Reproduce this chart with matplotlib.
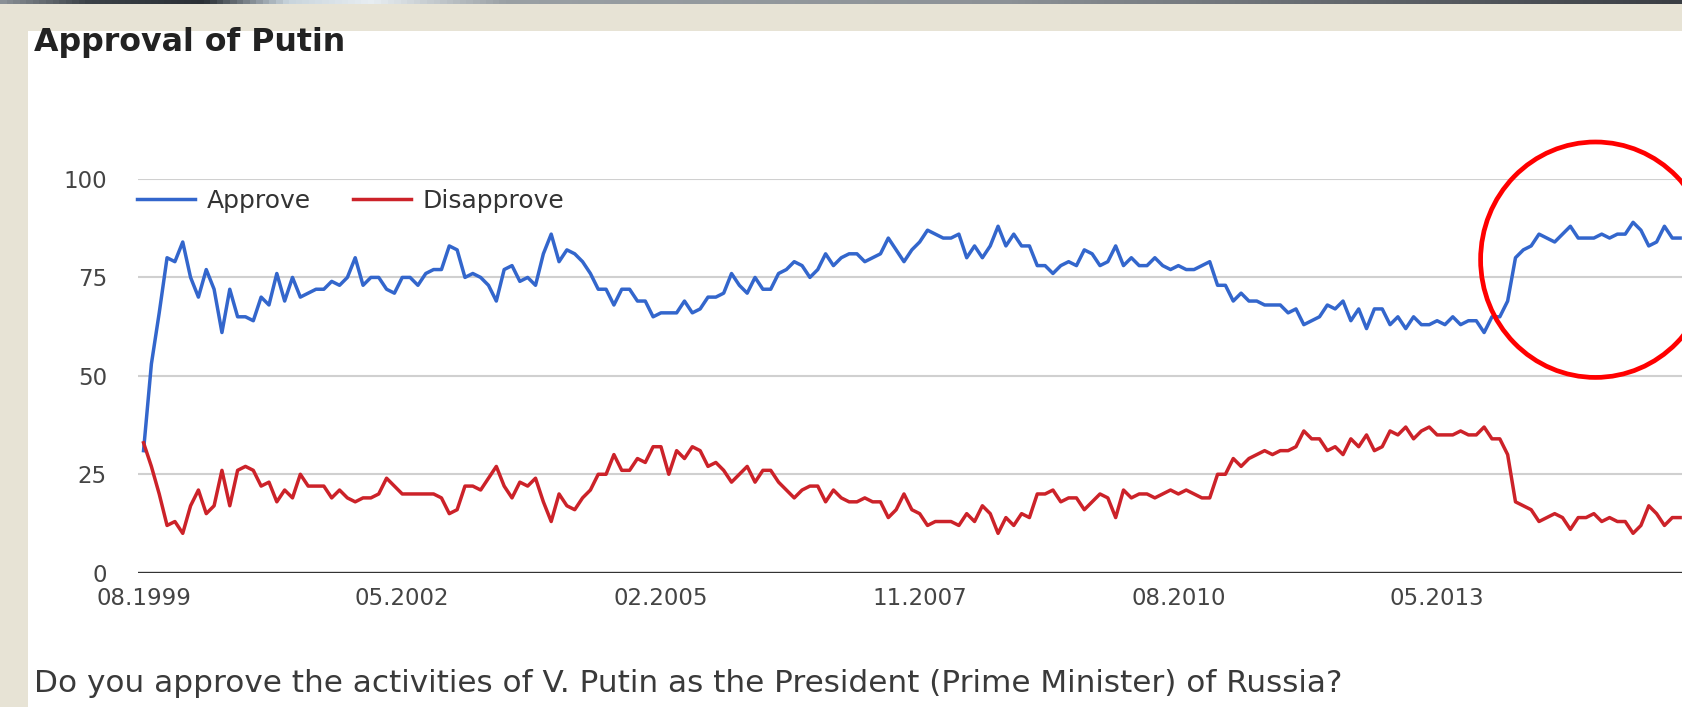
import numpy as np
import matplotlib.pyplot as plt
from matplotlib.patches import Rectangle, Ellipse
from matplotlib.colors import LinearSegmentedColormap

# Monthly survey values, 08.1999 onwards
approve = [
    31, 53, 66, 80, 79, 84, 75, 70, 77, 72,
    61, 72, 65, 65, 64, 70, 68, 76, 69, 75,
    70, 71, 72, 72, 74, 73, 75, 80, 73, 75,
    75, 72, 71, 75, 75, 73, 76, 77, 77, 83,
    82, 75, 76, 75, 73, 69, 77, 78, 74, 75,
    73, 81, 86, 79, 82, 81, 79, 76, 72, 72,
    68, 72, 72, 69, 69, 65, 66, 66, 66, 69,
    66, 67, 70, 70, 71, 76, 73, 71, 75, 72,
    72, 76, 77, 79, 78, 75, 77, 81, 78, 80,
    81, 81, 79, 80, 81, 85, 82, 79, 82, 84,
    87, 86, 85, 85, 86, 80, 83, 80, 83, 88,
    83, 86, 83, 83, 78, 78, 76, 78, 79, 78,
    82, 81, 78, 79, 83, 78, 80, 78, 78, 80,
    78, 77, 78, 77, 77, 78, 79, 73, 73, 69,
    71, 69, 69, 68, 68, 68, 66, 67, 63, 64,
    65, 68, 67, 69, 64, 67, 62, 67, 67, 63,
    65, 62, 65, 63, 63, 64, 63, 65, 63, 64,
    64, 61, 65, 65, 69, 80, 82, 83, 86, 85,
    84, 86, 88, 85, 85, 85, 86, 85, 86, 86,
    89, 87, 83, 84, 88, 85, 85,
]
disapprove = [
    33, 27, 20, 12, 13, 10, 17, 21, 15, 17,
    26, 17, 26, 27, 26, 22, 23, 18, 21, 19,
    25, 22, 22, 22, 19, 21, 19, 18, 19, 19,
    20, 24, 22, 20, 20, 20, 20, 20, 19, 15,
    16, 22, 22, 21, 24, 27, 22, 19, 23, 22,
    24, 18, 13, 20, 17, 16, 19, 21, 25, 25,
    30, 26, 26, 29, 28, 32, 32, 25, 31, 29,
    32, 31, 27, 28, 26, 23, 25, 27, 23, 26,
    26, 23, 21, 19, 21, 22, 22, 18, 21, 19,
    18, 18, 19, 18, 18, 14, 16, 20, 16, 15,
    12, 13, 13, 13, 12, 15, 13, 17, 15, 10,
    14, 12, 15, 14, 20, 20, 21, 18, 19, 19,
    16, 18, 20, 19, 14, 21, 19, 20, 20, 19,
    20, 21, 20, 21, 20, 19, 19, 25, 25, 29,
    27, 29, 30, 31, 30, 31, 31, 32, 36, 34,
    34, 31, 32, 30, 34, 32, 35, 31, 32, 36,
    35, 37, 34, 36, 37, 35, 35, 35, 36, 35,
    35, 37, 34, 34, 30, 18, 17, 16, 13, 14,
    15, 14, 11, 14, 14, 15, 13, 14, 13, 13,
    10, 12, 17, 15, 12, 14, 14,
]
tick_pos = [0, 33, 66, 99, 132, 165]
tick_labels = ['08.1999', '05.2002', '02.2005', '11.2007', '08.2010', '05.2013']
y_ticks = [0, 25, 50, 75, 100]

W, H = 1682, 707
fig = plt.figure(figsize=(W / 100, H / 100), dpi=100)
fig.patch.set_facecolor('#E7E3D5')

# white page panel
fig.patches.append(Rectangle((28 / W, 0), 1, (H - 31) / H, transform=fig.transFigure,
                             facecolor='white', edgecolor='none', zorder=-10))

# thin dark strip on the very top
bar = fig.add_axes([0, 1 - 4 / H, 1, 4 / H])
cmap = LinearSegmentedColormap.from_list('bar', [
    (0, '#8a9096'), (0.05, '#3c4248'), (0.12, '#2a2f35'), (0.17, '#c8d4dc'),
    (0.22, '#e8eef2'), (0.3, '#9aa0a4'), (0.6, '#8c9196'), (1, '#3a3e44')])
bar.imshow(np.linspace(0, 1, 256)[None, :], aspect='auto', cmap=cmap)
bar.axis('off')

x = np.arange(len(approve))
ax = fig.add_axes([137.5 / W, (H - 572.7) / H, (W - 137.5) / W, (572.7 - 179) / H])
ax.set_facecolor('none')
ax.set_axisbelow(True)

ax.plot(x, approve, color='#3366CC', lw=2.5, label='Approve', zorder=3)
ax.plot(x, disapprove, color='#CC2229', lw=2.5, label='Disapprove', zorder=4)

ax.set_xlim(-0.77, 196.24)
ax.set_ylim(0, 100)
ax.set_yticks(y_ticks)
ax.set_xticks(tick_pos)
ax.set_xticklabels(tick_labels)
ax.tick_params(axis='both', length=0, labelsize=16.5, labelcolor='#444444')
ax.tick_params(axis='y', pad=22)
ax.tick_params(axis='x', pad=10)
ax.grid(axis='y', color='#d0d0d0', lw=1.5)
ax.axhline(0, color='#333333', lw=2.4, zorder=2.6)
for s in ax.spines.values():
    s.set_visible(False)

ax.legend(loc='center left', bbox_to_anchor=(137 / W, 1 - 201 / H),
          bbox_transform=fig.transFigure, ncol=2, frameon=False, fontsize=18,
          handlelength=2.3, handletextpad=0.48, columnspacing=1.7,
          borderpad=0, borderaxespad=0, labelcolor='#333333')

# highlight circle
ax.add_patch(Ellipse((185.2, 79.5), 29.3, 59.8, fill=False, ec='#FF0000',
                     lw=3.4, clip_on=False, zorder=5))

fig.text(34 / W, 1 - 43 / H, 'Approval of Putin', fontsize=22.8, fontweight='bold',
         color='#222222', va='center', ha='left')
fig.text(34 / W, 1 - 684 / H,
         'Do you approve the activities of V. Putin as the President (Prime Minister) of Russia?',
         fontsize=22.4, color='#3a3a3a', va='center', ha='left')

fig.savefig('out.png', dpi=100, facecolor=fig.get_facecolor())
